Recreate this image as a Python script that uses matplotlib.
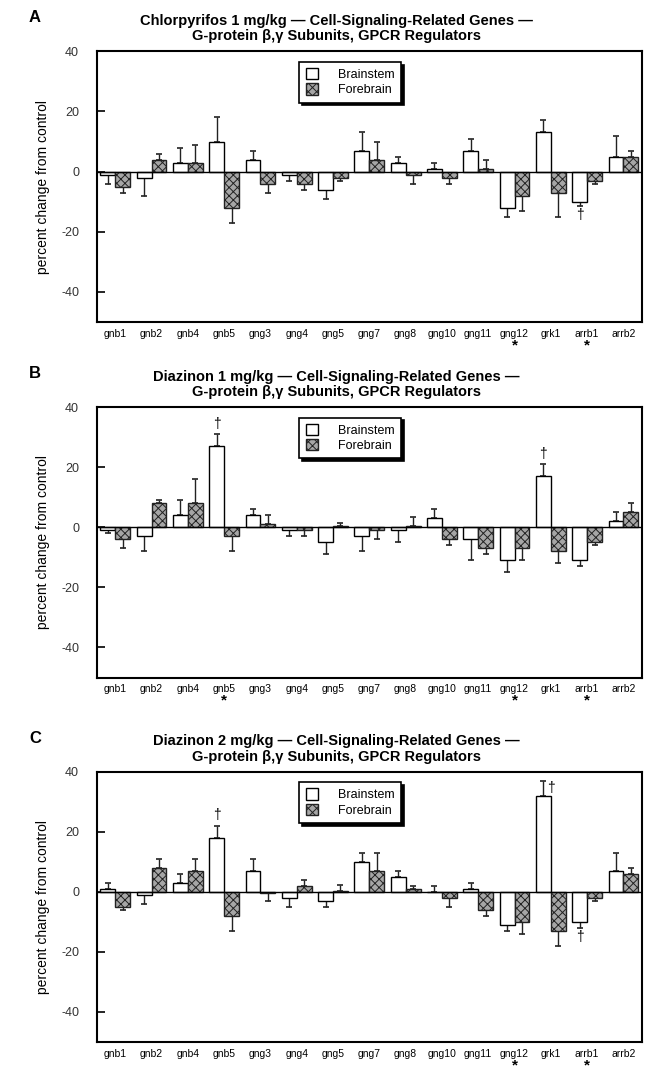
import matplotlib
matplotlib.use('Agg')
import matplotlib.pyplot as plt
import numpy as np

plt.rcParams['font.family'] = ['Liberation Sans', 'DejaVu Sans']
plt.rcParams['hatch.linewidth'] = 0.7
plt.rcParams['axes.unicode_minus'] = False

genes = ["gnb1", "gnb2", "gnb4", "gnb5", "gng3", "gng4", "gng5", "gng7",
         "gng8", "gng10", "gng11", "gng12", "grk1", "arrb1", "arrb2"]

titles = ["Chlorpyrifos 1 mg/kg", "Diazinon 1 mg/kg", "Diazinon 2 mg/kg"]
letters = ["A", "B", "C"]

# percent change, Brainstem / Forebrain, with SEM
cpf1_bs = [-1, -2, 3, 10, 4, -1, -6, 7, 3, 1, 7, -12, 13, -10, 5]
cpf1_bs_err = [3, 6, 5, 8, 3, 2, 3, 6, 2, 2, 4, 3, 4, 1.5, 7]
cpf1_fb = [-5, 4, 3, -12, -4, -4, -2, 4, -1, -2, 1, -8, -7, -3, 5]
cpf1_fb_err = [2, 2, 6, 5, 3, 2, 1, 6, 3, 2, 3, 5, 8, 1, 2]

dzn1_bs = [-1, -3, 4, 27, 4, -1, -5, -3, -1, 3, -4, -11, 17, -11, 2]
dzn1_bs_err = [1, 5, 5, 4, 2, 2, 4, 5, 4, 3, 7, 4, 4, 2, 3]
dzn1_fb = [-4, 8, 8, -3, 1, -1, 0.5, -1, 0.5, -4, -7, -7, -8, -5, 5]
dzn1_fb_err = [3, 1, 8, 5, 3, 2, 1, 3, 3, 2, 2, 4, 4, 1, 3]

dzn2_bs = [1, -1, 3, 18, 7, -2, -3, 10, 5, 0, 1, -11, 32, -10, 7]
dzn2_bs_err = [2, 3, 3, 4, 4, 3, 2, 3, 2, 2, 2, 2, 5, 2, 6]
dzn2_fb = [-5, 8, 7, -8, -0.5, 2, 0.3, 7, 1, -2, -6, -10, -13, -2, 6]
dzn2_fb_err = [1, 3, 4, 5, 2.5, 2, 2, 6, 1, 3, 2, 4, 5, 1, 2]

# genes marked with * under the axis, and daggers (gene, series)
stars = [["gng12", "arrb1"], ["gnb5", "gng12", "arrb1"], ["gng12", "arrb1"]]
daggers = [[("arrb1", "bs")], [("gnb5", "bs"), ("grk1", "bs")],
           [("gnb5", "bs"), ("grk1", "bs"), ("arrb1", "bs")]]

panels = [(cpf1_bs, cpf1_bs_err, cpf1_fb, cpf1_fb_err),
          (dzn1_bs, dzn1_bs_err, dzn1_fb, dzn1_fb_err),
          (dzn2_bs, dzn2_bs_err, dzn2_fb, dzn2_fb_err)]

fig = plt.figure(figsize=(6.56, 10.72), dpi=100)
bottoms = [0.700, 0.368, 0.028]
x = np.arange(len(genes))
w = 0.41

for k, (bs, bse, fb, fbe) in enumerate(panels):
    ax = fig.add_axes([0.148, bottoms[k], 0.830, 0.252])
    bs = np.array(bs, float); fb = np.array(fb, float)
    bse = np.array(bse, float); fbe = np.array(fbe, float)

    b1 = ax.bar(x - w / 2, bs, w, color='white', edgecolor='black', lw=1.0, zorder=3,
                label='Brainstem')
    b2 = ax.bar(x + w / 2, fb, w, color='#a6a6a6', edgecolor='#222222', hatch='xxxx',
                lw=1.0, zorder=3, label='Forebrain')
    for xs, v, e in [(x - w / 2, bs, bse), (x + w / 2, fb, fbe)]:
        up = np.where(v >= 0, e, 0)
        lo = np.where(v < 0, e, 0)
        ax.errorbar(xs, v, yerr=[lo, up], fmt='none', ecolor='#222222', elinewidth=1.0,
                    capsize=2.5, capthick=1.2, zorder=2)

    ax.axhline(0, color='black', lw=1.0, zorder=4)

    for g, s in daggers[k]:
        i = genes.index(g)
        v = bs[i] if s == 'bs' else fb[i]
        e = bse[i] if s == 'bs' else fbe[i]
        xi = i - w / 2 if s == 'bs' else i + w / 2
        if g == 'grk1' and k == 2:
            ax.text(xi + 0.22, v + e - 2.5, '\u2020', ha='center', va='center', fontsize=10)
        elif v >= 0:
            ax.text(xi, v + e + 3.5, '\u2020', ha='center', va='center', fontsize=10)
        else:
            ax.text(xi, v - e - 3.0, '\u2020', ha='center', va='center', fontsize=10)

    ax.set_xlim(-0.5, len(genes) - 0.5)
    ax.set_ylim(-50, 40)
    ax.set_yticks([-40, -20, 0, 20, 40])
    ax.tick_params(axis='y', direction='in', length=6, width=1.2, pad=13,
                   labelsize=9, labelcolor='#333333')
    ax.set_xticks(x)
    ax.set_xticklabels(genes, fontsize=7.5)
    ax.tick_params(axis='x', length=0, pad=5)
    for sp in ax.spines.values():
        sp.set_linewidth(1.5)
    ax.set_ylabel('percent change from control', fontsize=10, labelpad=8)

    for g in stars[k]:
        ax.text(genes.index(g), -57.8, '*', ha='center', va='center', fontsize=11,
                fontweight='bold', clip_on=False)

    ax.legend(handles=[b1, b2], loc='upper left', bbox_to_anchor=(0.36, 0.985),
              fontsize=9, frameon=True, fancybox=False, edgecolor='black',
              shadow={'color': 'black', 'alpha': 1}, borderpad=0.5,
              handlelength=1.0, handleheight=1.0, handletextpad=1.6, labelspacing=0.2)
    ax.get_legend().get_frame().set_linewidth(1.2)

    ax.text(0.44, 1.03, titles[k] + ' \u2014 Cell-Signaling-Related Genes \u2014\n'
            'G-protein \u03b2,\u03b3 Subunits, GPCR Regulators',
            transform=ax.transAxes, ha='center', va='bottom', fontsize=10.5,
            fontweight='bold', linespacing=1.15)
    ax.text(-0.125, 1.125, letters[k], transform=ax.transAxes, ha='left', va='center',
            fontsize=12, fontweight='bold')

fig.savefig('out.png', dpi=100)
